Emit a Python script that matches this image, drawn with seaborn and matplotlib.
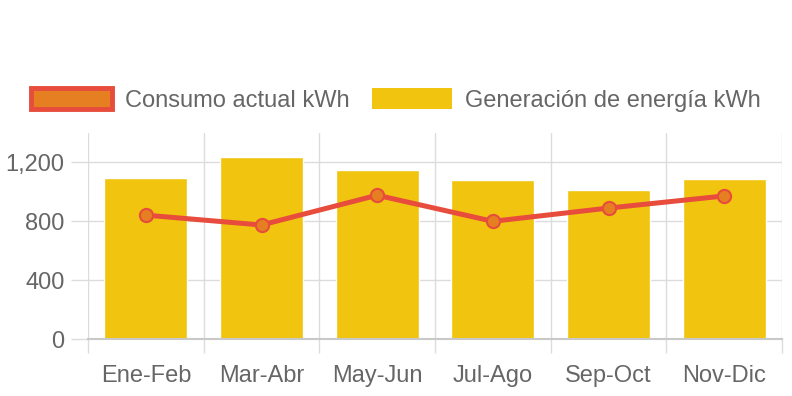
import numpy as np
import matplotlib
matplotlib.use("Agg")
import matplotlib.pyplot as plt
from matplotlib.patches import Patch
from matplotlib.ticker import FuncFormatter, FixedLocator
import seaborn as sns

# --- Data ---
periodos = ["Ene-Feb", "Mar-Abr", "May-Jun", "Jul-Ago", "Sep-Oct", "Nov-Dic"]
generacion = [1090, 1235, 1148, 1078, 1010, 1085]
consumo = [840, 773, 975, 798, 888, 970]
y_ticks = [0, 400, 800, 1200]

# --- Style ---
sns.set_theme(style="white")
plt.rcParams["font.family"] = ["Liberation Sans", "DejaVu Sans"]
GRID = "#dcdcdc"
TEXT = "#666666"
YELLOW = "#F1C40F"
RED = "#E74C3C"
ORANGE = "#E67E22"
FS = 17

fig = plt.figure(figsize=(7.92, 3.96), dpi=100)
ax = fig.add_axes([88 / 792, 1 - 339 / 396, (782 - 88) / 792, (339 - 133) / 396])

# bars
sns.barplot(x=periodos, y=generacion, color=YELLOW, width=0.72,
            saturation=1, ax=ax, zorder=2)

# line
sns.lineplot(x=np.arange(len(periodos)), y=consumo, color=RED, linewidth=3.6,
             marker="o", markersize=9.5, markerfacecolor=ORANGE,
             markeredgecolor=RED, markeredgewidth=1.5, ax=ax, zorder=4)

ax.set_xlim(-0.5, len(periodos) - 0.5)
ax.set_ylim(0, 1397)
ax.set_xlabel("")
ax.set_ylabel("")

# y axis
ax.yaxis.set_major_locator(FixedLocator(y_ticks))
ax.yaxis.set_major_formatter(FuncFormatter(lambda v, p: f"{int(v):,}"))
ax.tick_params(axis="y", length=12, color=GRID, width=1, pad=5,
               labelsize=FS, labelcolor=TEXT, left=True)

# x axis: labels at centers, grid at boundaries
ax.set_xticks(np.arange(len(periodos)))
ax.set_xticklabels(periodos)
ax.set_xticks(np.arange(len(periodos) + 1) - 0.5, minor=True)
ax.tick_params(axis="x", which="major", length=0, pad=19,
               labelsize=FS, labelcolor=TEXT)
ax.tick_params(axis="x", which="minor", length=10, color=GRID, width=1,
               bottom=True)

ax.grid(axis="y", which="major", color=GRID, linewidth=1)
ax.grid(axis="x", which="minor", color=GRID, linewidth=1)
ax.set_axisbelow(True)

for side in ["top", "right", "left"]:
    ax.spines[side].set_visible(False)
ax.spines["bottom"].set_color("#c8c8c8")
ax.spines["bottom"].set_linewidth(1.5)
ax.spines["bottom"].set_zorder(3)

# legend
handles = [
    Patch(facecolor=ORANGE, edgecolor=RED, linewidth=3.5, label="Consumo actual kWh"),
    Patch(facecolor=YELLOW, edgecolor=YELLOW, linewidth=0, label="Generación de energía kWh"),
]
leg = fig.legend(handles=handles, loc="center", bbox_to_anchor=(0.5, 1 - 100 / 396),
                 ncol=2, frameon=False, fontsize=FS, handlelength=3.4,
                 handleheight=0.95, handletextpad=0.55, columnspacing=0.95)
for t in leg.get_texts():
    t.set_color(TEXT)

fig.savefig("out.png", dpi=100)
